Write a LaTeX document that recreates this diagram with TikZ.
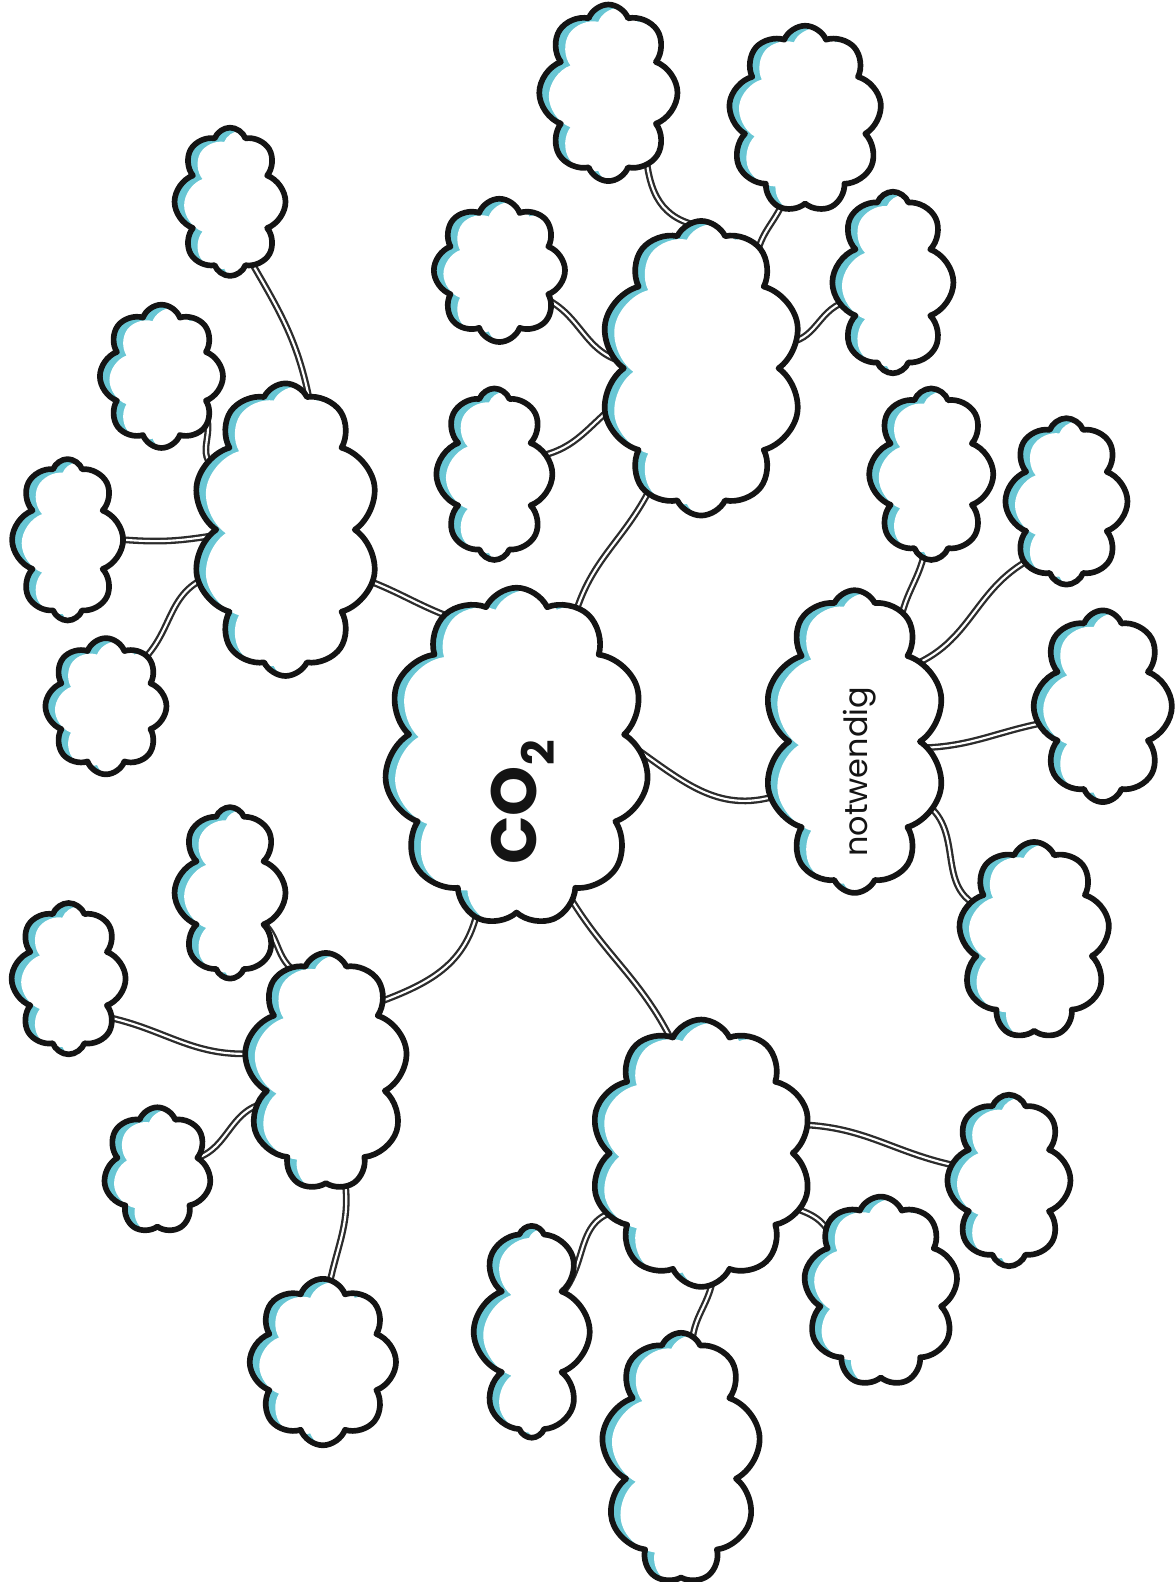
\documentclass[tikz,border=0pt]{standalone}
\usepackage{fontspec}
\newfontfamily\pop{Poppins}
\usetikzlibrary{shapes.symbols,backgrounds,calc}
\definecolor{shade}{RGB}{104,198,212}
\definecolor{ink}{RGB}{20,20,20}
\tikzset{
  cloudbox/.style={cloud, cloud ignores aspect, draw=ink, line width=3.2pt, line join=round,
    fill=shade, inner sep=0pt, outer sep=0pt},
  conn/.style={draw=ink!90, line width=1.3pt, double=white, double distance=1.2pt,
    shorten <=-8pt, shorten >=-8pt},
  lbl/.style={rotate=90, text=ink}
}
\newcommand\cld[7]{%
  \node[cloudbox, cloud puffs=#6, cloud puff arc=#7,
    minimum width=#4*0.02cm, minimum height=#5*0.02cm,
    path picture={\node[cloud, cloud ignores aspect, cloud puffs=#6, cloud puff arc=#7,
      fill=white, inner sep=0pt, outer sep=0pt,
      minimum width=#4*0.02cm, minimum height=#5*0.02cm]
      at ([shift={(0.19cm,-0.07cm)}]path picture bounding box.center) {};}
  ] (#1) at (#2,-#3) {};}
\begin{document}
\begin{tikzpicture}[x=0.02cm,y=0.02cm]
\useasboundingbox (0,0) rectangle (1164,-1568);
% center
\cld{co2}{512}{750}{262}{335}{11}{130}
\cld{notw}{847}{735}{180}{300}{10}{130}
% top group
\cld{tmain}{695}{365}{200}{292}{10}{130}
\cld{t1}{603}{92}{137}{175}{8}{140}
\cld{t2}{798}{118}{152}{185}{9}{135}
\cld{t3}{885}{280}{120}{180}{8}{140}
\cld{t4}{495}{268}{130}{142}{8}{140}
\cld{t5}{490}{470}{115}{170}{8}{140}
% left group
\cld{lmain}{283}{525}{185}{290}{10}{130}
\cld{l1}{228}{200}{110}{147}{8}{140}
\cld{l2}{160}{373}{122}{142}{8}{140}
\cld{l3}{67}{535}{110}{160}{8}{140}
\cld{l4}{105}{700}{120}{135}{8}{140}
% lower left group
\cld{llmain}{323}{1062}{162}{235}{9}{135}
\cld{ll1}{228}{885}{110}{170}{8}{140}
\cld{ll2}{68}{970}{113}{150}{8}{140}
\cld{ll3}{156}{1160}{107}{125}{7}{140}
\cld{ll4}{320}{1350}{145}{165}{8}{140}
% bottom group
\cld{bmain}{695}{1143}{220}{265}{10}{130}
\cld{b1}{1000}{1170}{122}{170}{8}{140}
\cld{b2}{873}{1280}{153}{188}{9}{135}
\cld{b3}{527}{1320}{115}{210}{8}{140}
\cld{b4}{675}{1445}{158}{248}{9}{135}
% right group
\cld{r1}{923}{470}{123}{170}{8}{140}
\cld{r2}{1057}{497}{121}{165}{8}{140}
\cld{r3}{1093}{700}{137}{190}{8}{140}
\cld{r4}{1025}{932}{150}{195}{9}{135}
% labels
\node[lbl, font=\pop\bfseries\fontsize{36}{40}\selectfont] (co2t) at (518,-795) {CO\textsubscript{2}};
\node[lbl, font=\pop\fontsize{18}{20}\selectfont] (notwt) at (852,-765) {notwendig};
% connectors
\begin{pgfonlayer}{background}
\draw[conn] (co2.68) to[out=75,in=245] (tmain.247);
\draw[conn] (co2.117) to[out=160,in=340] (lmain.329);
\draw[conn] (co2.2) to[out=-35,in=200] (notw.214);
\draw[conn] (co2.256) to[out=260,in=20] (llmain.51);
\draw[conn] (co2.291) to[out=300,in=115] (bmain.105);
\draw[conn] (t1.298) to[out=275,in=170] (tmain.95);
\draw[conn] (t2.255) to[out=250,in=80] (tmain.65);
\draw[conn] (tmain.15) to[out=0,in=190] (t3.200);
\draw[conn] (t4.330) to[out=-20,in=170] (tmain.175);
\draw[conn] (t5.20) to[out=10,in=220] (tmain.205);
\draw[conn] (l1.290) to[out=300,in=100] (lmain.80);
\draw[conn] (l2.320) to[out=310,in=150] (lmain.140);
\draw[conn] (l3.0) to[out=-5,in=190] (lmain.185);
\draw[conn] (l4.50) to[out=40,in=200] (lmain.210);
\draw[conn] (ll1.320) to[out=-30,in=150] (llmain.110);
\draw[conn] (ll2.318) to[out=-10,in=185] (llmain.168);
\draw[conn] (ll3.15) to[out=5,in=185] (llmain.205);
\draw[conn] (llmain.280) to[out=280,in=80] (ll4.85);
\draw[conn] (bmain.15) to[out=0,in=170] (b1.165);
\draw[conn] (bmain.330) to[out=-20,in=120] (b2.130);
\draw[conn] (bmain.212) to[out=190,in=40] (b3.50);
\draw[conn] (bmain.275) to[out=265,in=90] (b4.85);
\draw[conn] (notw.70) to[out=80,in=260] (r1.265);
\draw[conn] (notw.50) to[out=20,in=205] (r2.235);
\draw[conn] (notw.355) to[out=0,in=190] (r3.195);
\draw[conn] (notw.320) to[out=-30,in=160] (r4.150);
\end{pgfonlayer}
\end{tikzpicture}
\end{document}
